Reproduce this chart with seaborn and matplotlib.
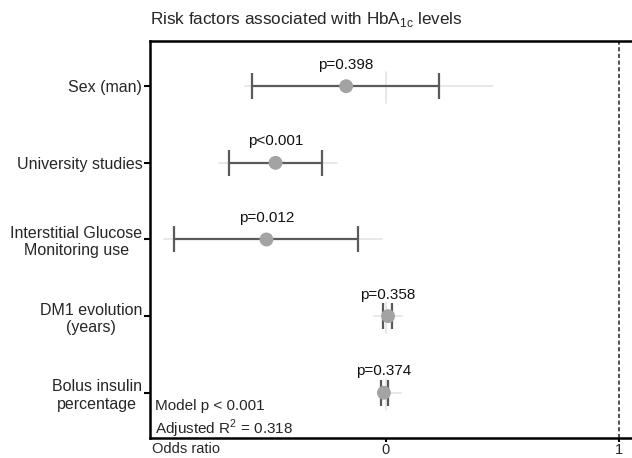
import matplotlib
matplotlib.use("Agg")
import matplotlib.pyplot as plt
import seaborn as sns
import pandas as pd
import numpy as np

# Regression estimates with 95% confidence intervals
factors = ["Sex (man)", "University studies", "Interstitial Glucose\nMonitoring use",
           "DM1 evolution\n(years)", "Bolus insulin\npercentage"]
estimate = [-0.171, -0.474, -0.513, 0.009, -0.009]
ci_low = [-0.573, -0.675, -0.910, -0.012, -0.023]
ci_high = [0.226, -0.274, -0.120, 0.027, 0.010]
# wider faint range drawn behind each interval
outer_low = [-0.605, -0.715, -0.953, -0.05, -0.035]
outer_high = [0.460, -0.210, -0.015, 0.07, 0.065]
p_labels = ["p=0.398", "p<0.001", "p=0.012", "p=0.358", "p=0.374"]
x_ticks = [0, 1]
model_text = ["Model p < 0.001", "Adjusted R$^{2}$ = 0.318"]

df = pd.DataFrame({"factor": factors, "estimate": estimate})

sns.set_style("white")
plt.rcParams["font.family"] = ["Liberation Sans", "DejaVu Sans"]
plt.rcParams["mathtext.fontset"] = "custom"
plt.rcParams["mathtext.rm"] = "Liberation Sans"

fig = plt.figure(figsize=(6.32, 4.58), dpi=100)
ax = fig.add_axes([0.2373, 0.0437, 0.7627, 0.8668])

rows = np.arange(len(factors))

# faint background guides
for i in rows:
    ax.plot([outer_low[i], outer_high[i]], [i, i], color="#e4e4e4", lw=1.2, zorder=1)
    if outer_low[i] < 0 < outer_high[i]:
        ax.plot([0, 0], [i - 0.18, i + 0.22], color="#e4e4e4", lw=1.2, zorder=1)

# confidence intervals
xerr = np.array([np.array(estimate) - np.array(ci_low),
                 np.array(ci_high) - np.array(estimate)])
ax.errorbar(estimate, rows, xerr=xerr, fmt="none", ecolor="#5a5a5a",
            elinewidth=1.6, capsize=9.5, capthick=1.6, zorder=2)

# point estimates
sns.scatterplot(data=df, x="estimate", y="factor", ax=ax, s=100,
                color="#a3a3a3", edgecolor="none", zorder=3, legend=False)

for i in rows:
    ax.text(estimate[i], i - 0.19, p_labels[i], ha="center", va="bottom",
            fontsize=11, color="#111111")

ax.axvline(1, color="#333333", lw=1.2, ls=(0, (2.5, 1.5)), zorder=0)

ax.set_xlim(-1.013, 1.056)
ax.set_ylim(4.59, -0.59)
ax.set_yticks(rows)
ax.set_yticklabels(factors, multialignment="center", fontsize=11.5)
ax.set_xticks(x_ticks)
ax.set_xticklabels([str(t) for t in x_ticks], fontsize=10.5)
ax.set_xlabel("")
ax.set_ylabel("")

ax.tick_params(axis="y", direction="out", length=4, width=1.5, color="black",
               left=True, pad=1.5)
ax.tick_params(axis="x", direction="out", length=3, width=1.5, color="black",
               bottom=True, pad=0.5)
for side in ["left", "top", "bottom"]:
    ax.spines[side].set_color("black")
    ax.spines[side].set_linewidth(1.8)
ax.spines["right"].set_visible(False)

ax.text(0.005, -0.01, "Odds ratio", transform=ax.transAxes, ha="left", va="top",
        fontsize=10.5)
ax.text(0.01, 0.08, model_text[0], transform=ax.transAxes, ha="left",
        va="center", fontsize=11)
ax.text(0.01, 0.022, model_text[1], transform=ax.transAxes, ha="left",
        va="center", fontsize=11)

fig.text(0.2373, 0.958, "Risk factors associated with HbA$_{\\mathregular{1c}}$ levels",
         ha="left", va="center", fontsize=12.3)

fig.savefig("out.png", dpi=100)
